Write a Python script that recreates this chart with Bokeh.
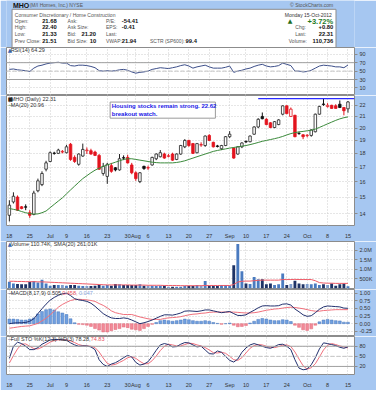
from bokeh.plotting import figure
from bokeh.layouts import column
from bokeh.models import Range1d, FixedTicker, Span
from bokeh.core.properties import value
from bokeh.embed import file_html
from bokeh.resources import INLINE

# ---------------- data ----------------
DAYS = list(range(84))
TICK_DAYS = [0, 5, 10, 14, 19, 24, 29, 31, 34, 39, 44, 49, 54, 58, 63, 68, 73, 78, 83]
TICK_LABELS = ["18", "25", "Jul", "9", "16", "23", "30", "Aug", "6", "13", "20", "27",
               "Sep", "10", "17", "24", "Oct", "8", "15"]

OPEN = [13.90, 14.70, 15.00, 14.40, 14.38, 14.05, 13.95, 15.40, 15.80, 16.85,
        17.40, 18.02, 18.00, 18.15, 18.05, 18.70, 17.70, 17.20, 17.80, 18.25,
        18.20, 18.10, 17.85, 16.55, 16.35, 17.10, 16.95, 16.80, 17.68, 17.70,
        17.15, 16.60, 16.00, 17.05, 16.97, 17.15, 17.60, 17.75, 17.95, 17.82,
        17.95, 17.55, 17.95, 18.50, 19.00, 18.75, 18.05, 18.68, 18.60, 19.40,
        18.85, 18.57, 18.35, 18.60, 19.30, 18.40, 17.95, 18.50, 18.92, 18.90,
        19.50, 20.10, 21.00, 20.75, 20.45, 20.05, 20.30, 21.20, 21.95, 21.00,
        21.10, 19.57, 19.45, 19.38, 19.40, 19.70, 21.20, 22.12, 21.88, 22.00,
        21.95, 22.10, 21.80, 21.68]
HIGH = [14.80, 15.30, 15.10, 14.45, 14.55, 14.20, 15.40, 16.20, 16.70, 17.45,
        18.15, 18.12, 18.35, 18.25, 18.65, 18.80, 17.85, 18.00, 18.75, 18.45,
        18.35, 18.20, 17.95, 17.30, 17.30, 17.30, 17.00, 17.95, 17.85, 17.90,
        17.30, 16.70, 16.65, 17.10, 17.10, 17.75, 18.00, 18.25, 18.05, 17.95,
        18.05, 18.00, 18.65, 19.10, 19.05, 18.80, 18.80, 18.85, 19.40, 19.50,
        18.90, 18.65, 18.65, 19.35, 19.75, 18.45, 18.55, 18.85, 19.00, 19.40,
        20.15, 20.85, 21.35, 20.85, 20.50, 20.60, 20.75, 22.00, 22.00, 21.80,
        21.15, 19.70, 19.50, 19.50, 19.90, 21.25, 21.95, 22.60, 22.20, 22.05,
        22.10, 22.45, 21.85, 22.40]
LOW = [13.55, 14.60, 14.15, 14.25, 14.20, 13.75, 13.90, 15.30, 15.70, 16.70,
       17.35, 17.90, 17.95, 18.00, 18.00, 17.45, 17.30, 17.10, 17.75, 17.95,
       17.90, 17.80, 16.80, 16.40, 15.85, 16.60, 16.70, 16.75, 17.50, 17.25,
       16.50, 16.05, 15.90, 16.80, 16.80, 17.10, 17.50, 17.70, 17.60, 17.70,
       17.45, 17.50, 17.90, 18.40, 18.50, 17.95, 18.00, 18.50, 18.50, 18.95,
       18.45, 18.45, 18.25, 18.55, 19.20, 17.60, 17.90, 18.40, 18.80, 18.85,
       19.45, 20.00, 20.75, 20.25, 20.00, 20.00, 20.25, 21.10, 21.20, 20.95,
       19.25, 19.45, 19.10, 19.25, 19.30, 19.65, 21.15, 21.95, 21.80, 21.70,
       21.70, 21.75, 21.10, 21.33]
CLOSE = [14.50, 15.05, 14.20, 14.30, 14.40, 13.90, 15.25, 16.05, 16.55, 17.30,
         18.05, 18.00, 18.25, 18.10, 18.50, 17.55, 17.40, 17.95, 18.30, 18.20,
         17.95, 17.85, 16.85, 17.05, 17.20, 16.70, 16.80, 17.60, 17.65, 17.30,
         16.60, 16.20, 16.60, 16.90, 16.93, 17.70, 17.95, 18.05, 17.65, 17.78,
         17.50, 17.95, 18.60, 19.00, 18.60, 18.00, 18.75, 18.63, 19.35, 19.00,
         18.50, 18.53, 18.60, 19.30, 19.50, 17.65, 18.50, 18.80, 18.88, 19.35,
         20.10, 20.75, 20.80, 20.30, 20.05, 20.55, 20.70, 21.95, 21.25, 21.65,
         19.30, 19.55, 19.30, 19.42, 19.85, 21.20, 21.90, 22.08, 22.00, 21.72,
         21.72, 21.80, 21.51, 22.31]
# w = hollow up, r = filled red, k = filled black, p = hollow red
CANDLE_TYPE = ["w", "w", "r", "r", "k", "r", "w", "w", "w", "w",
               "w", "k", "w", "p", "w", "r", "r", "w", "w", "p",
               "r", "r", "r", "w", "w", "r", "k", "w", "k", "r",
               "r", "r", "w", "k", "p", "w", "w", "w", "r", "p",
               "r", "w", "w", "w", "r", "r", "w", "p", "w", "r",
               "r", "k", "w", "w", "w", "r", "w", "w", "k", "w",
               "w", "w", "k", "r", "r", "w", "w", "w", "r", "p",
               "r", "k", "r", "p", "w", "w", "w", "k", "p", "r",
               "r", "k", "r", "w"]
MA20 = [14.30, 14.25, 14.20, 14.12, 14.05, 14.00, 13.97, 13.98, 14.05, 14.15,
        14.35, 14.55, 14.75, 14.95, 15.20, 15.45, 15.70, 15.95, 16.20, 16.40,
        16.60, 16.78, 16.92, 17.05, 17.15, 17.25, 17.35, 17.45, 17.55, 17.60,
        17.60, 17.55, 17.50, 17.45, 17.40, 17.35, 17.32, 17.30, 17.30, 17.30,
        17.30, 17.33, 17.38, 17.45, 17.55, 17.65, 17.75, 17.85, 17.95, 18.05,
        18.15, 18.22, 18.28, 18.34, 18.40, 18.45, 18.50, 18.55, 18.60, 18.67,
        18.75, 18.84, 18.93, 19.00, 19.07, 19.14, 19.22, 19.32, 19.44, 19.55,
        19.63, 19.69, 19.73, 19.78, 19.83, 19.92, 20.06, 20.21, 20.36, 20.51,
        20.66, 20.79, 20.89, 20.96]
BREAKOUT_LEVEL = 22.62
BREAKOUT_START = 61
NOTE_LINES = ["Housing stocks remain strong. 22.62", "breakout watch."]

RSI = [54, 55, 53, 52, 51, 49, 57, 62, 64, 67,
       69, 70, 71, 69, 69, 63, 62, 64, 64, 63,
       61, 58, 51, 50, 51, 50, 51, 53, 54, 52,
       48, 45, 47, 48, 50, 54, 56, 58, 57, 56,
       58, 60, 63, 65, 62, 57, 60, 62, 64, 60,
       57, 57, 57, 59, 62, 47, 50, 52, 55, 57,
       61, 64, 66, 62, 60, 61, 63, 69, 66, 63,
       50, 50, 48, 49, 52, 57, 62, 64, 63, 62,
       60, 60, 58, 64.29]

VOLUME_M = [0.35, 0.26, 0.23, 0.21, 0.21, 0.33, 0.38, 0.31, 0.45, 0.26,
            0.14, 0.18, 0.18, 0.18, 0.14, 0.18, 0.18, 0.14, 0.12, 0.12,
            0.12, 0.14, 0.18, 0.14, 0.18, 0.14, 0.23, 0.21, 0.18, 0.18,
            0.18, 0.18, 0.21, 0.14, 0.14, 0.14, 0.12, 0.14, 0.14, 0.09,
            0.09, 0.09, 0.09, 0.12, 0.12, 0.12, 0.18, 0.14, 0.38, 0.14,
            0.14, 0.12, 0.18, 0.18, 0.14, 1.21, 2.32, 0.90, 0.26, 0.23,
            0.60, 0.47, 0.47, 0.21, 0.26, 0.18, 0.21, 0.78, 0.18, 0.23,
            0.40, 0.26, 0.21, 0.23, 0.21, 0.26, 0.18, 0.21, 0.18, 0.26,
            0.14, 0.21, 0.26, 0.11]
VOLUME_SMA_M = [0.37, 0.37, 0.36, 0.36, 0.35, 0.35, 0.35, 0.34, 0.34, 0.33,
                0.32, 0.31, 0.30, 0.29, 0.28, 0.27, 0.26, 0.25, 0.24, 0.23,
                0.22, 0.21, 0.20, 0.19, 0.18, 0.18, 0.18, 0.18, 0.18, 0.18,
                0.17, 0.17, 0.17, 0.17, 0.16, 0.16, 0.16, 0.16, 0.15, 0.15,
                0.15, 0.15, 0.14, 0.14, 0.14, 0.14, 0.14, 0.14, 0.15, 0.15,
                0.15, 0.15, 0.15, 0.15, 0.15, 0.20, 0.33, 0.37, 0.38, 0.38,
                0.40, 0.42, 0.43, 0.43, 0.43, 0.43, 0.43, 0.46, 0.46, 0.46,
                0.47, 0.46, 0.46, 0.46, 0.46, 0.40, 0.30, 0.28, 0.27, 0.27,
                0.26, 0.26, 0.26, 0.26]

MACD = [0.00, 0.02, 0.03, 0.03, 0.04, 0.08, 0.16, 0.33, 0.49, 0.64,
        0.77, 0.86, 0.93, 0.98, 1.00, 0.92, 0.82, 0.78, 0.76, 0.73,
        0.67, 0.57, 0.45, 0.33, 0.25, 0.19, 0.17, 0.17, 0.19, 0.17,
        0.12, 0.06, 0.00, 0.03, 0.07, 0.12, 0.18, 0.24, 0.29, 0.29,
        0.28, 0.31, 0.35, 0.41, 0.42, 0.41, 0.40, 0.42, 0.45, 0.45,
        0.42, 0.39, 0.36, 0.38, 0.40, 0.33, 0.27, 0.27, 0.29, 0.37,
        0.44, 0.52, 0.58, 0.59, 0.58, 0.58, 0.59, 0.64, 0.65, 0.61,
        0.48, 0.39, 0.29, 0.24, 0.26, 0.36, 0.47, 0.55, 0.58, 0.57,
        0.56, 0.55, 0.51, 0.505]
SIGNAL = [-0.15, -0.13, -0.11, -0.09, -0.08, -0.07, -0.03, 0.01, 0.09, 0.18,
          0.29, 0.41, 0.54, 0.63, 0.70, 0.76, 0.79, 0.80, 0.79, 0.78,
          0.76, 0.73, 0.66, 0.60, 0.52, 0.42, 0.36, 0.33, 0.30, 0.30,
          0.30, 0.26, 0.22, 0.19, 0.16, 0.14, 0.14, 0.14, 0.17, 0.19,
          0.20, 0.21, 0.23, 0.26, 0.29, 0.31, 0.32, 0.34, 0.35, 0.37,
          0.38, 0.38, 0.38, 0.38, 0.38, 0.38, 0.37, 0.36, 0.35, 0.35,
          0.36, 0.38, 0.41, 0.44, 0.46, 0.48, 0.49, 0.51, 0.53, 0.54,
          0.53, 0.51, 0.49, 0.46, 0.43, 0.41, 0.41, 0.43, 0.44, 0.45,
          0.46, 0.46, 0.46, 0.458]
HIST = [0.15, 0.15, 0.14, 0.12, 0.12, 0.15, 0.19, 0.32, 0.40, 0.46,
        0.48, 0.45, 0.39, 0.35, 0.30, 0.16, 0.03, -0.02, -0.03, -0.05,
        -0.09, -0.16, -0.21, -0.27, -0.27, -0.23, -0.19, -0.16, -0.11, -0.13,
        -0.18, -0.20, -0.22, -0.16, -0.09, -0.02, 0.04, 0.10, 0.12, 0.10,
        0.08, 0.10, 0.12, 0.15, 0.13, 0.10, 0.08, 0.08, 0.10, 0.08,
        0.04, 0.01, -0.02, 0.00, 0.02, -0.05, -0.10, -0.09, -0.06, 0.02,
        0.08, 0.14, 0.17, 0.15, 0.12, 0.10, 0.10, 0.13, 0.12, 0.07,
        -0.05, -0.12, -0.20, -0.22, -0.17, -0.05, 0.06, 0.12, 0.14, 0.12,
        0.10, 0.09, 0.05, 0.047]

STO_K = [44, 80, 92, 88, 80, 70, 70, 76, 86, 92,
         99, 100, 100, 99, 98, 90, 84, 80, 81, 81,
         78, 70, 40, 26, 20, 27, 31, 38, 46, 53,
         48, 32, 24, 27, 34, 50, 68, 84, 88, 85,
         78, 79, 86, 91, 90, 84, 78, 80, 69, 58,
         57, 66, 62, 50, 38, 33, 42, 62, 75, 84,
         88, 84, 80, 76, 74, 79, 85, 86, 80, 70,
         40, 15, 10, 12, 25, 46, 72, 90, 88, 85,
         82, 77, 74, 78.28]
STO_D = [30, 52, 72, 86, 87, 80, 73, 72, 77, 85,
         92, 97, 99, 99.5, 99, 96, 91, 85, 82, 81,
         80, 76, 63, 45, 29, 24, 26, 32, 38, 46,
         49, 44, 35, 28, 28, 37, 51, 67, 80, 86,
         84, 81, 81, 85, 89, 88, 84, 81, 76, 69,
         61, 60, 62, 59, 50, 40, 38, 46, 60, 74,
         82, 85, 84, 80, 77, 76, 79, 83, 84, 79,
         63, 42, 22, 12, 16, 28, 48, 69, 83, 88,
         85, 81, 78, 74.83]

SYMBOL = "MHO"
COMPANY = "(M/I Homes, Inc.) NYSE"
SECTOR = "Consumer Discretionary / Home Construction"
DATE_TEXT = "Monday  15-Oct-2012"
Q_LABELS_1 = ["Open:", "High:", "Low:", "Prev Close:"]
Q_VALUES_1 = ["21.68", "22.40", "21.33", "21.51"]
Q_LABELS_2 = ["Ask:", "Ask Size:", "Bid:", "Bid Size:"]
Q_VALUES_2 = ["", "", "21.20", "10"]
Q_LABELS_3 = ["P/E:", "EPS:", "Last:", "VWAP:"]
Q_VALUES_3 = ["-54.41", "-0.41", "", "21.94"]
SCTR_LABEL = "SCTR (SP600):"
SCTR_VALUE = "99.4"
CHANGE_PCT = "+3.72%"
R_LABELS = ["Chg:", "Last:", "Volume:"]
R_VALUES = ["+0.80", "22.31", "110,736"]

# ---------------- style ----------------
W = 376
BLUE = "#a6c7f1"
FRAME = "#8c8c8c"
GRIDC = "#cdcdcd"
FONT = "Liberation Sans"
NAVY = "#22306e"
RED = "#e3141e"
PINK = "#f0707c"
GREEN = "#3b8a3b"
TXT = "#333333"
LBL = "#555555"
XR = (-0.7, 84.6)
PLOT_W = W - 6 - 22
PX_PER_DAY = PLOT_W / (XR[1] - XR[0])


def tw(s, size):
    w = 0.0
    for ch in s:
        if ch in "0123456789":
            w += 0.556
        elif ch in ".,: ":
            w += 0.278
        elif ch in "()":
            w += 0.333
        elif ch == "%":
            w += 0.889
        elif ch in "MW":
            w += 0.833
        elif ch.isupper():
            w += 0.68
        elif ch in "ijl":
            w += 0.222
        elif ch in "ftr":
            w += 0.3
        elif ch in "mw":
            w += 0.8
        else:
            w += 0.53
    return w * size


def panel(height, yr, ticks, labels, bottom=0, ytype="linear"):
    p = figure(width=W, height=height, x_range=Range1d(*XR), y_range=yr,
               y_axis_type=ytype, y_axis_location="right",
               output_backend="svg", toolbar_location=None,
               min_border_left=6, min_border_right=22, min_border_top=0,
               min_border_bottom=bottom)
    p.border_fill_color = BLUE
    p.background_fill_color = "white"
    p.outline_line_color = FRAME
    ya = p.yaxis[0]
    ya.ticker = FixedTicker(ticks=ticks)
    ya.major_label_overrides = {t: l for t, l in zip(ticks, labels)}
    ya.axis_line_color = None
    ya.major_tick_line_color = FRAME
    ya.major_tick_out = 3
    ya.major_tick_in = 0
    ya.minor_tick_line_color = None
    ya.major_label_text_font_size = "5.5px"
    ya.major_label_text_font = FONT
    ya.major_label_text_color = TXT
    ya.major_label_standoff = 2
    p.ygrid.ticker = FixedTicker(ticks=ticks)
    p.xgrid.ticker = FixedTicker(ticks=TICK_DAYS)
    for g in (p.xgrid[0], p.ygrid[0]):
        g.grid_line_color = GRIDC
        g.grid_line_dash = "1 2"
    xa = p.xaxis[0]
    if bottom:
        xa.ticker = FixedTicker(ticks=TICK_DAYS)
        xa.major_label_overrides = {t: l for t, l in zip(TICK_DAYS, TICK_LABELS)}
        xa.axis_line_color = None
        xa.major_tick_line_color = None
        xa.minor_tick_line_color = None
        xa.major_label_text_font_size = "5.5px"
        xa.major_label_text_font = FONT
        xa.major_label_text_color = TXT
        xa.major_label_standoff = 1
    else:
        xa.visible = False
    return p


def legend(p, x, y, parts, size=6):
    for txt, color, font in parts:
        p.text(x=[x], y=[y], text=[txt], text_color=color, text_font=value(font),
               text_font_size=f"{size}px", text_baseline="middle", text_align="left")
        x += tw(txt, size) / PX_PER_DAY


def hline(p, loc, dash=None, color="#a0a0a0"):
    s = Span(location=loc, dimension="width", line_color=color, line_width=1)
    if dash:
        s.line_dash = dash
    p.add_layout(s)


# ---------------- header ----------------
hd = figure(width=W, height=47, x_range=Range1d(0, W), y_range=Range1d(47, 0),
            x_axis_location=None, y_axis_location=None, output_backend="svg",
            toolbar_location=None, min_border=0)
hd.grid.visible = False
hd.outline_line_color = None
hd.background_fill_color = BLUE
hd.border_fill_color = BLUE
hd.quad(left=[6], right=[356], top=[8.8], bottom=[47], fill_color="white",
        line_color=FRAME)


def ht(x, y, s, size=5.0, bold=False, color=LBL, align="left", font=FONT):
    hd.text(x=[x], y=[y], text=[s], text_font=value(font), text_font_size=f"{size}px",
            text_font_style="bold" if bold else "normal", text_color=color,
            text_align=align, text_baseline="middle")


ht(7, 4.6, SYMBOL, size=7, bold=True, color="#111111")
ht(25, 4.8, COMPANY, size=5)
ht(353, 4.8, "\u00a9 StockCharts.com", size=5, align="right")
ht(9, 14, SECTOR)
ht(353, 14, DATE_TEXT, align="right", color=TXT)
ROW_Y = [20.3, 26.7, 33.6, 40.1]
V2_X = [82, 82, 81, 90]
for i, y in enumerate(ROW_Y):
    ht(9, y, Q_LABELS_1[i])
    ht(38.5, y, Q_VALUES_1[i], bold=True, size=5.8, color="#111111")
    ht(66, y, Q_LABELS_2[i])
    if Q_VALUES_2[i]:
        ht(V2_X[i], y, Q_VALUES_2[i], bold=True, size=5.8, color="#111111")
    ht(107.5, y, Q_LABELS_3[i])
    if Q_VALUES_3[i]:
        ht(124.5, y, Q_VALUES_3[i], bold=True, size=5.8, color="#111111")
ht(155, ROW_Y[3], SCTR_LABEL)
ht(193.5, ROW_Y[3], SCTR_VALUE, bold=True, size=5.8, color="#111111")
ht(304, ROW_Y[0], "\u25b2", size=6, color="#1e6e1e", font="DejaVu Sans")
ht(353, ROW_Y[0] + 0.3, CHANGE_PCT, size=7.5, bold=True, color="#1e7a1e", align="right")
for i, (lab, val) in enumerate(zip(R_LABELS, R_VALUES)):
    ht(312 if i < 2 else 305, ROW_Y[i + 1], lab)
    ht(353, ROW_Y[i + 1], val, bold=True, size=5.8, align="right", color="#111111")

# ---------------- RSI ----------------
rsi = panel(48, Range1d(-8, 106), [10, 30, 50, 70, 90], ["10", "30", "50", "70", "90"])
hline(rsi, 70)
hline(rsi, 30)
hline(rsi, 50, dash="4 2", color="#c4c4c4")
rsi.line(DAYS, RSI, line_color="#3d4f8a", line_width=1)
legend(rsi, -0.4, 99, [("\u25b2", "#3a66b0", "DejaVu Sans"), ("RSI(14) 64.29", TXT, FONT)], size=5.5)

# ---------------- price ----------------
PT = [14, 15, 16, 17, 18, 19, 20, 21, 22]
pr = panel(146, Range1d(13.32, 22.92), PT, [str(t) for t in PT], bottom=8, ytype="log")
COLMAP = {"w": ("white", "#222222"), "r": (RED, RED), "k": ("#111111", "#111111"),
          "p": ("white", RED)}
fills = [COLMAP[t][0] for t in CANDLE_TYPE]
lines = [COLMAP[t][1] for t in CANDLE_TYPE]
pr.segment(x0=DAYS, y0=LOW, x1=DAYS, y1=HIGH, line_color=lines, line_width=1)
pr.vbar(x=DAYS, width=0.62, top=[max(o, c) for o, c in zip(OPEN, CLOSE)],
        bottom=[min(o, c) for o, c in zip(OPEN, CLOSE)],
        fill_color=fills, line_color=lines, line_width=0.8)
pr.line(DAYS, MA20, line_color=GREEN, line_width=1)
pr.segment(x0=[BREAKOUT_START], y0=[BREAKOUT_LEVEL], x1=[XR[1]], y1=[BREAKOUT_LEVEL],
           line_color="#2a2aff", line_width=1.3)
pr.quad(left=[24.7], right=[50.5], top=[22.3], bottom=[20.85], fill_color="white",
        line_color="#9a9a9a", line_width=1)
pr.text(x=[25.1, 25.1], y=[21.95, 21.22], text=NOTE_LINES, text_color="#1a1ae6",
        text_font=value(FONT), text_font_size="6px", text_font_style="bold",
        text_baseline="middle", text_align="left")
legend(pr, -0.4, 22.58, [("\u25a0", "#222222", "DejaVu Sans"), ("MHO (Daily) 22.31", TXT, FONT)], size=5.5)
legend(pr, -0.4, 22.06, [("\u2014", GREEN, "DejaVu Sans"), ("MA(20) 20.96", TXT, FONT)], size=5.5)

# ---------------- volume ----------------
VT = [500000, 1000000, 1500000, 2000000]
vol = panel(48, Range1d(-60000, 2450000), VT, ["500K", "1.0M", "1.5M", "2.0M"])
VCOL = {"w": "#4a7bc0", "p": "#7f9dcc", "r": "#1e3366", "k": "#1e3366"}
vol.vbar(x=DAYS, width=0.7, top=[v * 1e6 for v in VOLUME_M], bottom=0,
         fill_color=[VCOL[t] for t in CANDLE_TYPE], line_color=None)
vol.line(DAYS, [v * 1e6 for v in VOLUME_SMA_M], line_color="#ef5a66", line_width=1)
legend(vol, -0.4, 2.31e6, [("\u25b2", "#3a66b0", "DejaVu Sans"),
                            ("Volume 110.74K, SMA(20) 261.01K", TXT, FONT)], size=5.5)

# ---------------- MACD ----------------
MT = [-0.25, 0.0, 0.25, 0.5, 0.75, 1.0]
mac = panel(47, Range1d(-0.42, 1.12), MT, ["-0.25", "0.00", "0.25", "0.50", "0.75", "1.00"])
mac.vbar(x=DAYS, width=0.7, top=HIST, bottom=0,
         fill_color=["#6f9fe0" if h >= 0 else "#f28a98" for h in HIST],
         line_color=["#4a78bd" if h >= 0 else "#e06676" for h in HIST], line_width=0.5)
mac.line(DAYS, SIGNAL, line_color=PINK, line_width=1)
mac.line(DAYS, MACD, line_color=NAVY, line_width=1)
legend(mac, -0.4, 1.01, [("\u2014", NAVY, "DejaVu Sans"), ("MACD(8,17,9) 0.505,", TXT, FONT),
                          (" 0.458,", "#e8505e", FONT), (" 0.047", "#8aa6e0", FONT)], size=5.5)

# ---------------- Stochastic ----------------
sto = panel(54, Range1d(-4, 109), [20, 50, 80], ["20", "50", "80"], bottom=8)
hline(sto, 80)
hline(sto, 20)
hline(sto, 50, dash="4 2", color="#c4c4c4")
sto.line(DAYS, STO_D, line_color=PINK, line_width=1)
sto.line(DAYS, STO_K, line_color=NAVY, line_width=1)
legend(sto, -0.4, 100.5, [("\u2014", NAVY, "DejaVu Sans"),
                           ("Full STO %K(12,3) %D(3) 78.28,", TXT, FONT),
                           (" 74.83", "#e8505e", FONT)], size=5.5)

layout = column(hd, rsi, pr, vol, mac, sto, spacing=0)
open("out.html", "w").write(file_html(layout, INLINE))
